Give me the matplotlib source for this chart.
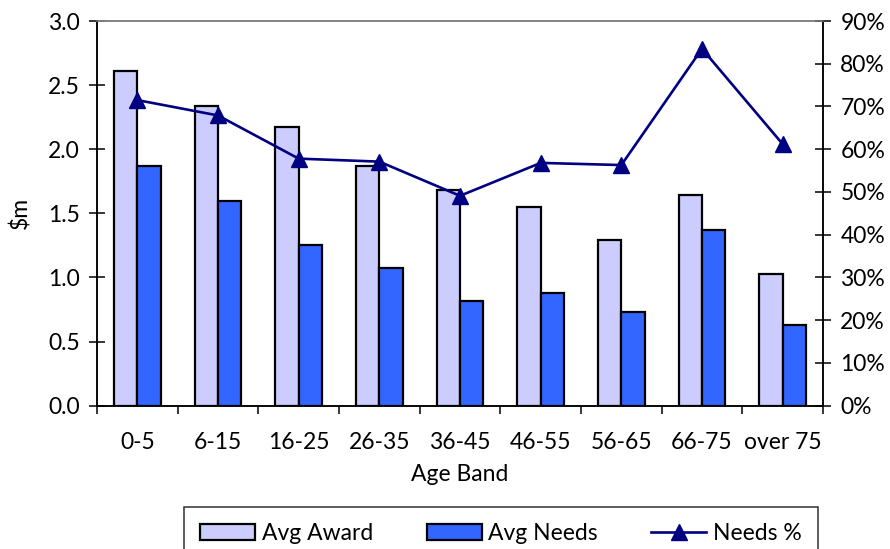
import matplotlib.pyplot as plt
import numpy as np

plt.rcParams['font.family'] = ['Lato', 'DejaVu Sans']

age_bands = ['0-5', '6-15', '16-25', '26-35', '36-45', '46-55', '56-65', '66-75', 'over 75']
avg_award = [2.61, 2.34, 2.17, 1.87, 1.68, 1.55, 1.29, 1.64, 1.03]
avg_needs = [1.87, 1.60, 1.25, 1.07, 0.82, 0.88, 0.73, 1.37, 0.63]
needs_pct = [71.5, 67.9, 57.8, 57.1, 49.1, 56.8, 56.3, 83.5, 61.2]

FS = 16.5
x = np.arange(len(age_bands))
w = 0.29

fig = plt.figure(figsize=(8.9, 5.49), dpi=100)
ax = fig.add_axes([97 / 890, 1 - 405.7 / 549, 726 / 890, 384.7 / 549])
ax2 = ax.twinx()

b1 = ax.bar(x - w / 2, avg_award, w, color='#CCCCFF', edgecolor='black', linewidth=1.6,
            label='Avg Award', zorder=2)
b2 = ax.bar(x + w / 2, avg_needs, w, color='#3366FF', edgecolor='black', linewidth=1.6,
            label='Avg Needs', zorder=2)
ln, = ax2.plot(x, needs_pct, color='#000080', lw=1.9, marker='^', ms=11,
               label='Needs %', zorder=3)

ax.set_xlim(-0.5, len(age_bands) - 0.5)
ax.set_ylim(0, 3.0)
ax.set_yticks(np.arange(0, 3.01, 0.5))
ax.set_yticklabels([f'{v:.1f}' for v in np.arange(0, 3.01, 0.5)])
ax2.set_ylim(0, 90)
ax2.set_yticks(range(0, 91, 10))
ax2.set_yticklabels([f'{v}%' for v in range(0, 91, 10)])

# labels sit under the bar groups, ticks mark the group boundaries
ax.set_xticks(x)
ax.set_xticklabels(age_bands)
ax.set_xticks(np.arange(-0.5, len(age_bands)), minor=True)
ax.tick_params(axis='x', which='major', length=0, pad=19, labelsize=FS)
ax.tick_params(axis='x', which='minor', length=6, width=1.1, direction='out')
ax.tick_params(axis='y', length=11, width=1.1, direction='inout', pad=7, labelsize=FS)
ax2.tick_params(axis='y', length=11, width=1.1, direction='inout', pad=7, labelsize=FS)

for a in (ax, ax2):
    for side in ('left', 'right', 'bottom'):
        a.spines[side].set_linewidth(1.1)
        a.spines[side].set_color('black')
    a.spines['top'].set_color('#808080')
    a.spines['top'].set_linewidth(1.1)

ax.set_xlabel('Age Band', fontsize=FS, labelpad=8)
ax.set_ylabel('$m', fontsize=FS, labelpad=12)

leg = fig.legend([b1, b2, ln], ['Avg Award', 'Avg Needs', 'Needs %'], ncol=3,
                 loc='upper left', mode='expand', borderaxespad=0,
                 bbox_to_anchor=(184 / 890, 1 - 507 / 549, 634 / 890, 0),
                 fontsize=FS, frameon=True, fancybox=False, framealpha=1,
                 edgecolor='#303030', handlelength=2.4, handleheight=0.65,
                 handletextpad=0.3, borderpad=0.7)
leg.get_frame().set_linewidth(1.1)

fig.savefig('out.png', dpi=100)
